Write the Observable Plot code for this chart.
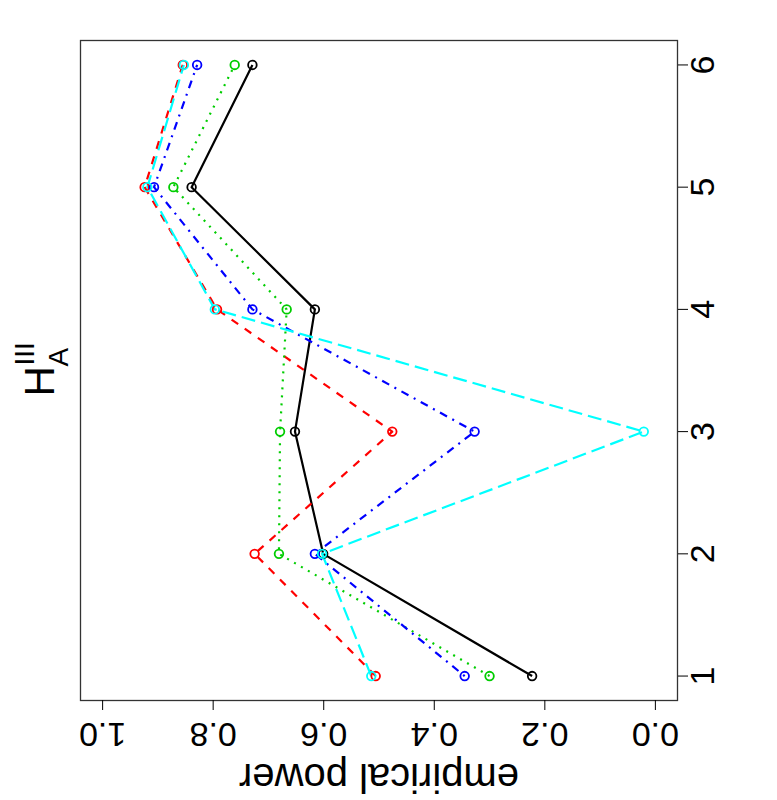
<!DOCTYPE html>
<html>
<head>
<meta charset="utf-8">
<script src="https://cdn.jsdelivr.net/npm/d3@7"></script>
<script src="https://cdn.jsdelivr.net/npm/@observablehq/plot@0.6"></script>
<style>
  html, body { margin: 0; padding: 0; background: #fff; }
  #chart { width: 777px; height: 800px; }
</style>
</head>
<body>
<div id="chart"></div>
<script>
// x positions (index) and empirical power per series
const idx = [1, 2, 3, 4, 5, 6];
const seriesNames = ["black", "red", "green", "blue", "cyan"];
const powerBlack = [0.223, 0.601, 0.652, 0.616, 0.839, 0.729];
const powerRed   = [0.506, 0.725, 0.476, 0.793, 0.924, 0.855];
const powerGreen = [0.300, 0.681, 0.679, 0.667, 0.872, 0.761];
const powerBlue  = [0.345, 0.616, 0.327, 0.729, 0.907, 0.829];
const powerCyan  = [0.514, 0.603, 0.021, 0.797, 0.919, 0.853];

const powerTicks = [0, 0.2, 0.4, 0.6, 0.8, 1.0];
const idxTicks = [1, 2, 3, 4, 5, 6];
const ylabText = "empirical power";
const titleMain = "H";
const titleSub = "A";
const titleSup = "III";

const colors = {black: "#000000", red: "#FF0000", green: "#00CD00", blue: "#0000FF", cyan: "#00FFFF"};
const dashes = {black: null, red: "8,8", green: "2,6", blue: "2,6,8,6", cyan: "14,6"};

const valuesBySeries = {black: powerBlack, red: powerRed, green: powerGreen, blue: powerBlue, cyan: powerCyan};
const rows = [];
for (const s of seriesNames) {
  valuesBySeries[s].forEach((v, i) => rows.push({series: s, idx: idx[i], power: v}));
}

const marks = [];
for (const s of seriesNames) {
  const data = rows.filter(r => r.series === s);
  marks.push(Plot.line(data, {
    x: "power", y: "idx", stroke: colors[s], strokeWidth: 2.2,
    strokeDasharray: dashes[s], strokeLinecap: "butt", strokeLinejoin: "round"
  }));
}
for (const s of seriesNames) {
  const data = rows.filter(r => r.series === s);
  marks.push(Plot.dot(data, {
    x: "power", y: "idx", stroke: colors[s], strokeWidth: 1.8, r: 4.3, fill: "none"
  }));
}

const font = "'Liberation Sans', Arial, Helvetica, sans-serif";

const chart = Plot.plot({
  width: 777,
  height: 800,
  marginLeft: 80,
  marginRight: 100,
  marginTop: 40,
  marginBottom: 100,
  style: {fontFamily: font, background: "#fff", overflow: "visible"},
  x: {domain: [1.04, -0.04], axis: null},
  y: {domain: [0.8, 6.2], axis: null},
  marks: [
    ...marks,
    Plot.frame({stroke: "#333", strokeWidth: 1.3}),
    Plot.axisX(powerTicks, {anchor: "bottom", tickSize: 10, tickFormat: () => "", label: null, stroke: "#000"}),
    Plot.text(powerTicks, {x: d => d, frameAnchor: "bottom", dy: 22, rotate: 180, text: d => d3.format(".1f")(d),
      textAnchor: "middle", lineAnchor: "bottom", fontSize: 34, fill: "#000"}),
    Plot.axisY(idxTicks, {anchor: "right", tickSize: 10, tickFormat: () => "", label: null, stroke: "#000"}),
    Plot.text(idxTicks, {y: d => d, frameAnchor: "right", dx: 36, rotate: -90, text: d => String(d),
      textAnchor: "middle", lineAnchor: "bottom", fontSize: 34, fill: "#000"}),
    Plot.text([ylabText], {text: d => d, frameAnchor: "bottom", dy: 63, rotate: 180,
      textAnchor: "middle", lineAnchor: "bottom", fontSize: 40, fill: "#000"}),
    Plot.text([titleMain], {text: d => d, frameAnchor: "left", dx: -27, dy: 26, rotate: -90,
      textAnchor: "start", lineAnchor: "bottom", fontSize: 42, fill: "#000"}),
    Plot.text([titleSub], {text: d => d, frameAnchor: "left", dx: -13, dy: -4, rotate: -90,
      textAnchor: "start", lineAnchor: "bottom", fontSize: 28, fill: "#000"}),
    Plot.text([titleSup], {text: d => d, frameAnchor: "left", dx: -47, dy: -5, rotate: -90,
      textAnchor: "start", lineAnchor: "bottom", fontSize: 28, fill: "#000"})
  ]
});
document.getElementById("chart").appendChild(chart);
</script>
</body>
</html>
